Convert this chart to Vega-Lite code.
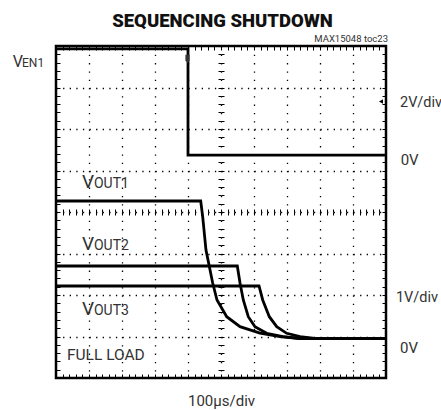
{
  "$schema": "https://vega.github.io/schema/vega-lite/v6.json",
  "width": 330,
  "height": 332,
  "autosize": {"type": "none"},
  "padding": {"left": 56, "top": 46, "right": 55, "bottom": 32},
  "background": "white",
  "config": {
    "view": {"stroke": "black", "strokeWidth": 2.5},
    "text": {"font": "Roboto", "fontWeight": 400, "color": "#333", "baseline": "alphabetic", "align": "left"}
  },
  "data": {"values": [{}]},
  "datasets": {
    "traces": [
      {"s": "VEN1", "i": 0, "t": 0, "v": 7.93},
      {"s": "VEN1", "i": 1, "t": 4.0, "v": 7.93},
      {"s": "VEN1", "i": 2, "t": 4.0, "v": 5.37},
      {"s": "VEN1", "i": 3, "t": 10, "v": 5.37},
      {"s": "VOUT1", "i": 0, "t": 0, "v": 4.265},
      {"s": "VOUT1", "i": 1, "t": 4.385, "v": 4.265},
      {"s": "VOUT1", "i": 2, "t": 4.445, "v": 3.887},
      {"s": "VOUT1", "i": 3, "t": 4.545, "v": 3.084},
      {"s": "VOUT1", "i": 4, "t": 4.748, "v": 2.289},
      {"s": "VOUT1", "i": 5, "t": 4.879, "v": 1.88},
      {"s": "VOUT1", "i": 6, "t": 5.173, "v": 1.477},
      {"s": "VOUT1", "i": 7, "t": 5.576, "v": 1.236},
      {"s": "VOUT1", "i": 8, "t": 6.182, "v": 1.084},
      {"s": "VOUT1", "i": 9, "t": 6.788, "v": 0.995},
      {"s": "VOUT1", "i": 10, "t": 7.394, "v": 0.952},
      {"s": "VOUT1", "i": 11, "t": 10, "v": 0.952},
      {"s": "VOUT2", "i": 0, "t": 0, "v": 2.699},
      {"s": "VOUT2", "i": 1, "t": 5.494, "v": 2.699},
      {"s": "VOUT2", "i": 2, "t": 5.576, "v": 2.289},
      {"s": "VOUT2", "i": 3, "t": 5.676, "v": 1.88},
      {"s": "VOUT2", "i": 4, "t": 5.827, "v": 1.477},
      {"s": "VOUT2", "i": 5, "t": 6.03, "v": 1.236},
      {"s": "VOUT2", "i": 6, "t": 6.385, "v": 1.077},
      {"s": "VOUT2", "i": 7, "t": 6.879, "v": 0.995},
      {"s": "VOUT2", "i": 8, "t": 7.394, "v": 0.952},
      {"s": "VOUT2", "i": 9, "t": 10, "v": 0.952},
      {"s": "VOUT3", "i": 0, "t": 0, "v": 2.217},
      {"s": "VOUT3", "i": 1, "t": 6.152, "v": 2.217},
      {"s": "VOUT3", "i": 2, "t": 6.264, "v": 1.88},
      {"s": "VOUT3", "i": 3, "t": 6.464, "v": 1.477},
      {"s": "VOUT3", "i": 4, "t": 6.688, "v": 1.236},
      {"s": "VOUT3", "i": 5, "t": 6.991, "v": 1.077},
      {"s": "VOUT3", "i": 6, "t": 7.394, "v": 0.995},
      {"s": "VOUT3", "i": 7, "t": 7.848, "v": 0.952},
      {"s": "VOUT3", "i": 8, "t": 10, "v": 0.952}
    ]
  },
  "resolve": {"axis": {"x": "independent", "y": "independent"}},
  "layer": [
    {
      "data": {"name": "traces"},
      "mark": {"type": "line", "color": "black", "strokeWidth": 2.8, "clip": true},
      "encoding": {
        "x": {"field": "t", "type": "quantitative", "scale": {"domain": [0, 10], "nice": false, "zero": false},
          "axis": {"orient": "bottom", "values": [1, 2, 3, 4, 5, 6, 7, 8, 9], "grid": true, "gridColor": "black", "gridWidth": 1.3, "gridDash": [1.3, 7.0], "gridOpacity": 1, "ticks": false, "labels": false, "domain": false, "title": null}},
        "y": {"field": "v", "type": "quantitative", "scale": {"domain": [0, 8], "nice": false, "zero": false},
          "axis": {"orient": "left", "values": [1, 2, 3, 4, 5, 6, 7], "grid": true, "gridColor": "black", "gridWidth": 1.3, "gridDash": [1.3, 5.3], "gridOpacity": 1, "ticks": false, "labels": false, "domain": false, "title": null}},
        "detail": {"field": "s"},
        "order": {"field": "i"}
      }
    },
    {
      "mark": {"type": "text", "text": "SEQUENCING SHUTDOWN", "fontWeight": 900, "fontSize": 18.5, "align": "center", "color": "#111"},
      "encoding": {
        "x": {"datum": 5.045, "type": "quantitative", "axis": {"orient": "bottom", "tickCount": 50, "tickSize": -4, "tickColor": "black", "tickWidth": 1, "labels": false, "domain": false, "grid": false, "title": null}},
        "y": {"datum": 8.458, "type": "quantitative", "axis": {"orient": "left", "tickCount": 40, "tickSize": -4, "tickColor": "black", "tickWidth": 1, "labels": false, "domain": false, "grid": false, "title": null}}
      }
    },
    {
      "mark": {"type": "text", "text": "MAX15048 toc23", "fontSize": 9.5, "align": "right"},
      "encoding": {
        "x": {"datum": 10.06, "type": "quantitative", "axis": {"orient": "top", "tickCount": 50, "tickSize": -4, "tickColor": "black", "tickWidth": 1, "labels": false, "domain": false, "grid": false, "title": null}},
        "y": {"datum": 8.096, "type": "quantitative", "axis": {"orient": "right", "tickCount": 40, "tickSize": -4, "tickColor": "black", "tickWidth": 1, "labels": false, "domain": false, "grid": false, "title": null}}
      }
    },
    {
      "mark": {"type": "text", "text": "100µs/div", "fontSize": 15, "align": "center"},
      "encoding": {
        "x": {"datum": 5.015, "type": "quantitative", "axis": {"orient": "bottom", "offset": -166, "tickCount": 50, "tickSize": 3, "tickColor": "black", "tickWidth": 1, "labels": false, "domain": false, "grid": false, "title": null}},
        "y": {"datum": -0.675, "type": "quantitative", "axis": {"orient": "left", "offset": -165, "tickCount": 40, "tickSize": 3, "tickColor": "black", "tickWidth": 1, "labels": false, "domain": false, "grid": false, "title": null}}
      }
    },
    {
      "mark": {"type": "text", "text": "V", "fontSize": 16},
      "encoding": {
        "x": {"datum": -1.313, "type": "quantitative", "axis": {"orient": "top", "offset": -166, "tickCount": 50, "tickSize": 3, "tickColor": "black", "tickWidth": 1, "labels": false, "domain": false, "grid": false, "title": null}},
        "y": {"datum": 7.486, "type": "quantitative", "axis": {"orient": "right", "offset": -165, "tickCount": 40, "tickSize": 3, "tickColor": "black", "tickWidth": 1, "labels": false, "domain": false, "grid": false, "title": null}}
      }
    },
    {
      "mark": {"type": "text", "text": "EN1", "fontSize": 12},
      "encoding": {"x": {"datum": -1.03, "type": "quantitative", "axis": null}, "y": {"datum": 7.486, "type": "quantitative", "axis": null}}
    },
    {
      "mark": {"type": "text", "text": "V", "fontSize": 19},
      "encoding": {"x": {"datum": 0.788, "type": "quantitative", "axis": null}, "y": {"datum": 4.578, "type": "quantitative", "axis": null}}
    },
    {
      "mark": {"type": "text", "text": "OUT1", "fontSize": 14},
      "encoding": {"x": {"datum": 1.15, "type": "quantitative", "axis": null}, "y": {"datum": 4.578, "type": "quantitative", "axis": null}}
    },
    {
      "mark": {"type": "text", "text": "V", "fontSize": 19},
      "encoding": {"x": {"datum": 0.788, "type": "quantitative", "axis": null}, "y": {"datum": 3.084, "type": "quantitative", "axis": null}}
    },
    {
      "mark": {"type": "text", "text": "OUT2", "fontSize": 14},
      "encoding": {"x": {"datum": 1.15, "type": "quantitative", "axis": null}, "y": {"datum": 3.084, "type": "quantitative", "axis": null}}
    },
    {
      "mark": {"type": "text", "text": "V", "fontSize": 19},
      "encoding": {"x": {"datum": 0.788, "type": "quantitative", "axis": null}, "y": {"datum": 1.518, "type": "quantitative", "axis": null}}
    },
    {
      "mark": {"type": "text", "text": "OUT3", "fontSize": 14},
      "encoding": {"x": {"datum": 1.15, "type": "quantitative", "axis": null}, "y": {"datum": 1.518, "type": "quantitative", "axis": null}}
    },
    {
      "mark": {"type": "text", "text": "FULL LOAD", "fontSize": 15.5},
      "encoding": {"x": {"datum": 0.333, "type": "quantitative", "axis": null}, "y": {"datum": 0.434, "type": "quantitative", "axis": null}}
    },
    {
      "mark": {"type": "text", "text": "2V/div", "fontSize": 14.5},
      "encoding": {"x": {"datum": 10.424, "type": "quantitative", "axis": null}, "y": {"datum": 6.53, "type": "quantitative", "axis": null}}
    },
    {
      "mark": {"type": "text", "text": "0V", "fontSize": 15},
      "encoding": {"x": {"datum": 10.445, "type": "quantitative", "axis": null}, "y": {"datum": 5.133, "type": "quantitative", "axis": null}}
    },
    {
      "mark": {"type": "text", "text": "1V/div", "fontSize": 14.5},
      "encoding": {"x": {"datum": 10.3, "type": "quantitative", "axis": null}, "y": {"datum": 1.831, "type": "quantitative", "axis": null}}
    },
    {
      "mark": {"type": "text", "text": "0V", "fontSize": 15},
      "encoding": {"x": {"datum": 10.424, "type": "quantitative", "axis": null}, "y": {"datum": 0.61, "type": "quantitative", "axis": null}}
    },
    {
      "mark": {"type": "point", "shape": "triangle-left", "filled": true, "color": "black", "size": 22, "opacity": 1},
      "encoding": {"x": {"datum": 9.848, "type": "quantitative", "axis": null}, "y": {"datum": 6.663, "type": "quantitative", "axis": null}}
    },
    {
      "mark": {"type": "point", "shape": "M-0.5,-1L0.5,-1L0.5,0.3L0,1L-0.5,0.3Z", "filled": true, "color": "#333", "size": 70, "opacity": 1},
      "encoding": {"x": {"datum": 3.985, "type": "quantitative", "axis": null}, "y": {"datum": 7.687, "type": "quantitative", "axis": null}}
    }
  ]
}
